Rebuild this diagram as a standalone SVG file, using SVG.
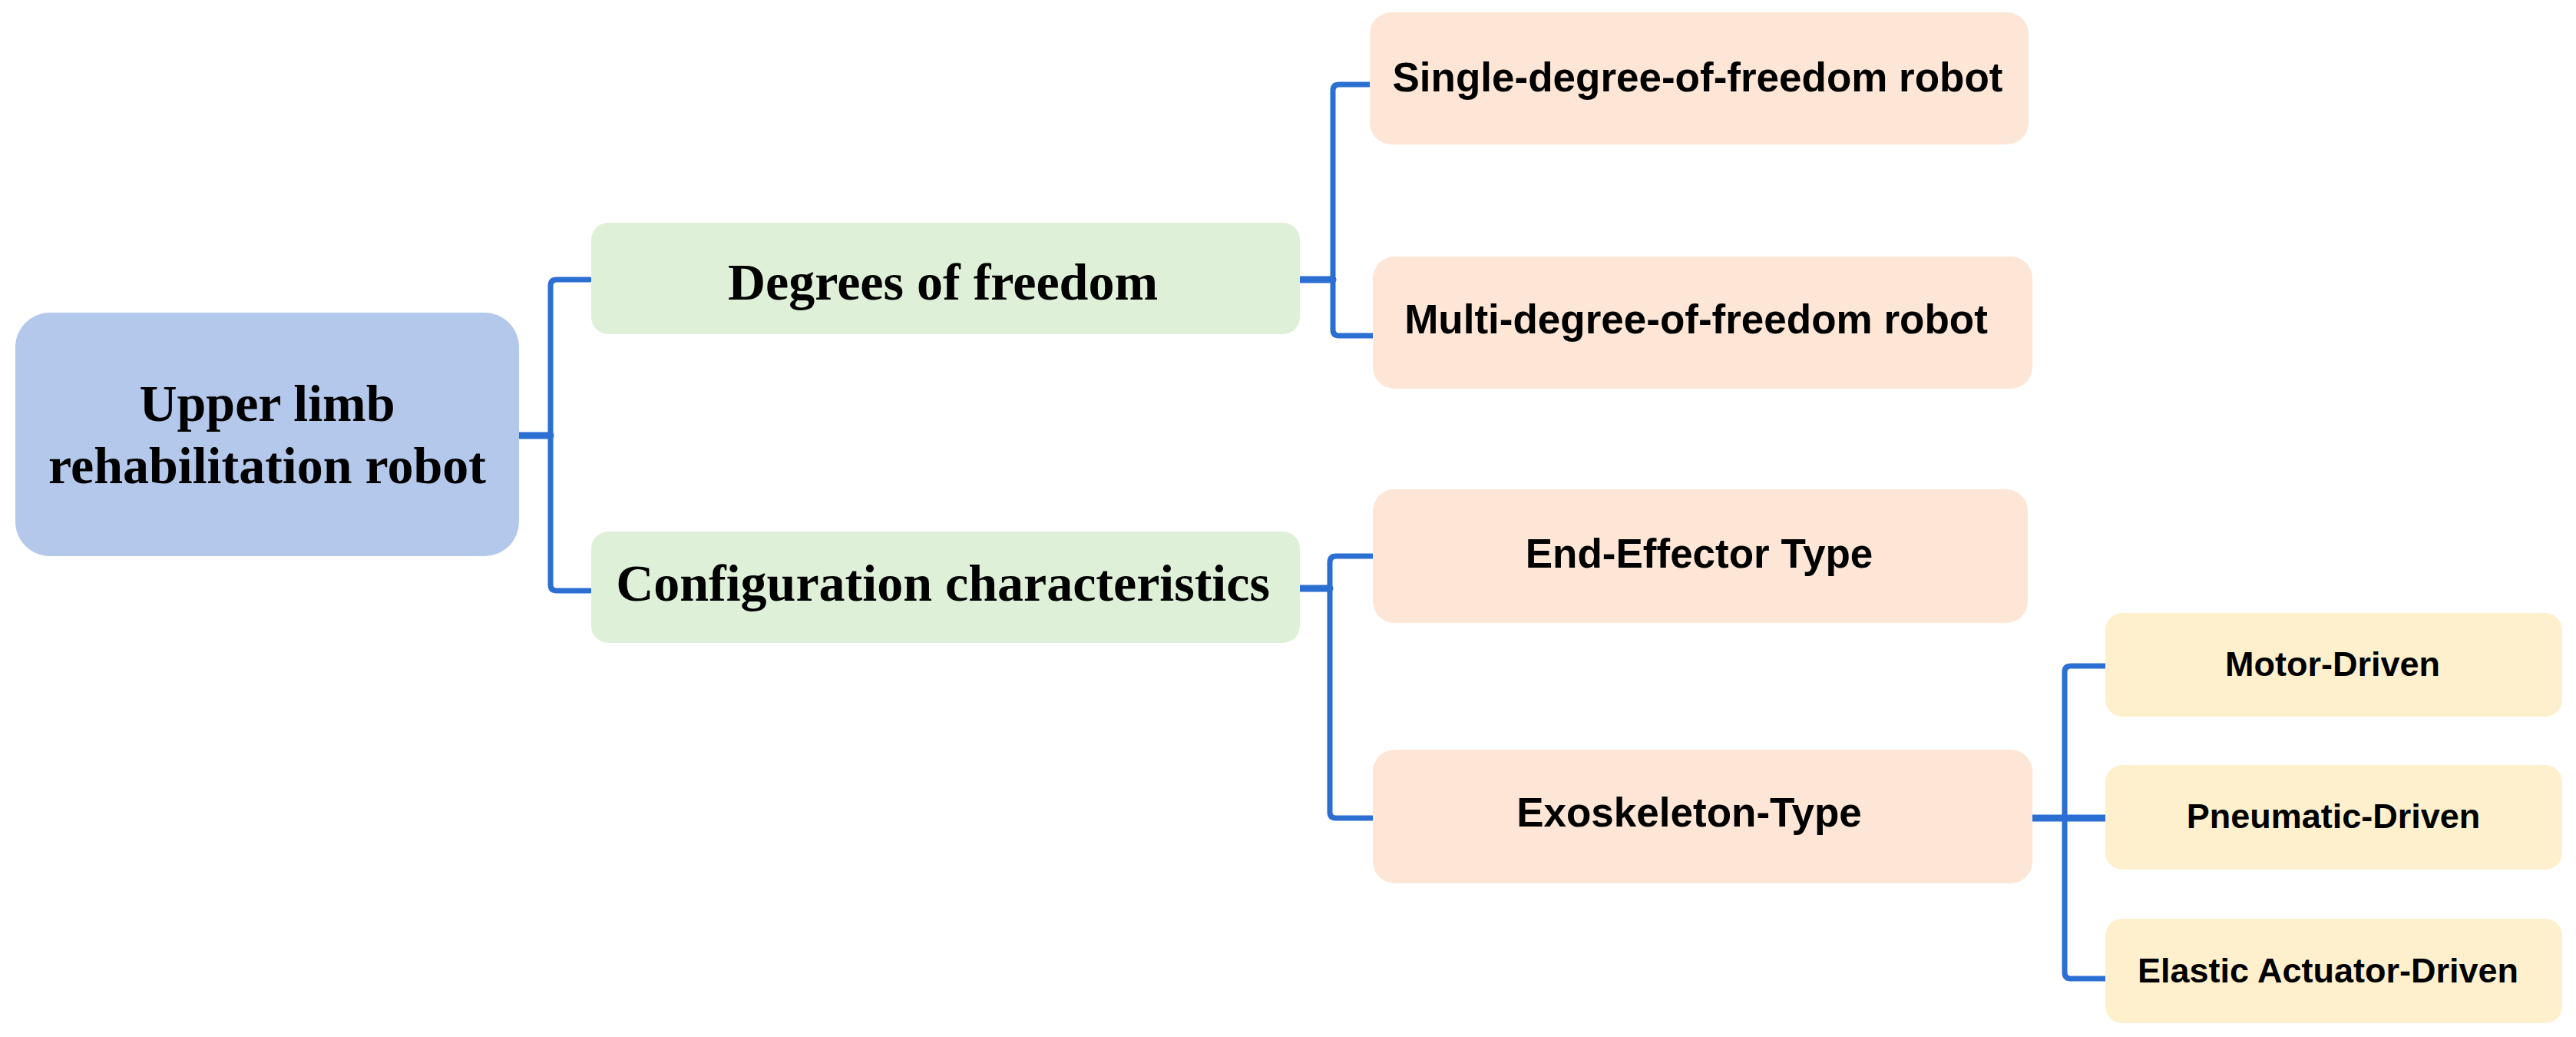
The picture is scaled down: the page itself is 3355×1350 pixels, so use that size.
<svg xmlns="http://www.w3.org/2000/svg" width="3355" height="1350" viewBox="0 0 3355 1350">
<style>
.line{fill:none;stroke:#2B6FD3;stroke-width:7;stroke-linejoin:round;stroke-linecap:round}
.stub{fill:none;stroke:#2B6FD3;stroke-width:9;stroke-linecap:round}
.root{fill:#B3C8EA}
.l1{fill:#DFF0D8}
.l2{fill:#FEE6D6}
.l3{fill:#FEF0CD}
.serif{font-family:"Liberation Serif","Times New Roman",serif;font-weight:bold;font-size:68px;fill:#000;text-anchor:middle}
.sans{font-family:"Liberation Sans",Arial,sans-serif;font-weight:bold;font-size:53px;fill:#000;text-anchor:middle}
.sans-s{font-family:"Liberation Sans",Arial,sans-serif;font-weight:bold;font-size:45px;fill:#000;text-anchor:middle}
</style>
<rect width="3355" height="1350" fill="#fff"/>
<g id="connectors">
<path class="stub" d="M676,567 H717"/>
<path class="line" d="M768,364 H725 Q717,364 717,372 V761 Q717,769 725,769 H768"/>
<path class="stub" d="M1693,364 H1736"/>
<path class="line" d="M1783,110 H1744 Q1736,110 1736,118 V429 Q1736,437 1744,437 H1788"/>
<path class="stub" d="M1693,766 H1732"/>
<path class="line" d="M1788,724 H1740 Q1732,724 1732,732 V1057 Q1732,1065 1740,1065 H1788"/>
<path class="stub" d="M2646,1065 H2742"/>
<path class="line" d="M2742,867 H2697 Q2689,867 2689,875 V1266 Q2689,1274 2697,1274 H2742"/>
</g>
<g id="root">
<rect class="root" x="20" y="407" width="656" height="317" rx="45"/>
<text class="serif" x="348" y="548">Upper limb</text>
<text class="serif" x="348" y="629">rehabilitation robot</text>
</g>
<g id="dof">
<rect class="l1" x="770" y="290" width="923" height="145" rx="22"/>
<text class="serif" x="1228" y="390">Degrees of freedom</text>
</g>
<g id="config">
<rect class="l1" x="770" y="692" width="923" height="145" rx="22"/>
<text class="serif" x="1228" y="782">Configuration characteristics</text>
</g>
<g id="single">
<rect class="l2" x="1784" y="16" width="858" height="172" rx="28"/>
<text class="sans" x="2211" y="119">Single-degree-of-freedom robot</text>
</g>
<g id="multi">
<rect class="l2" x="1788" y="334" width="859" height="172" rx="28"/>
<text class="sans" x="2209" y="434">Multi-degree-of-freedom robot</text>
</g>
<g id="endeffector">
<rect class="l2" x="1788" y="637" width="853" height="174" rx="28"/>
<text class="sans" x="2213" y="739">End-Effector Type</text>
</g>
<g id="exoskeleton">
<rect class="l2" x="1788" y="976" width="859" height="174" rx="28"/>
<text class="sans" x="2200" y="1076">Exoskeleton-Type</text>
</g>
<g id="motor">
<rect class="l3" x="2742" y="798" width="595" height="135" rx="22"/>
<text class="sans-s" x="3038" y="880">Motor-Driven</text>
</g>
<g id="pneumatic">
<rect class="l3" x="2742" y="996" width="595" height="136" rx="22"/>
<text class="sans-s" x="3039" y="1078">Pneumatic-Driven</text>
</g>
<g id="elastic">
<rect class="l3" x="2742" y="1196" width="595" height="136" rx="22"/>
<text class="sans-s" x="3032" y="1279">Elastic Actuator-Driven</text>
</g>
</svg>
